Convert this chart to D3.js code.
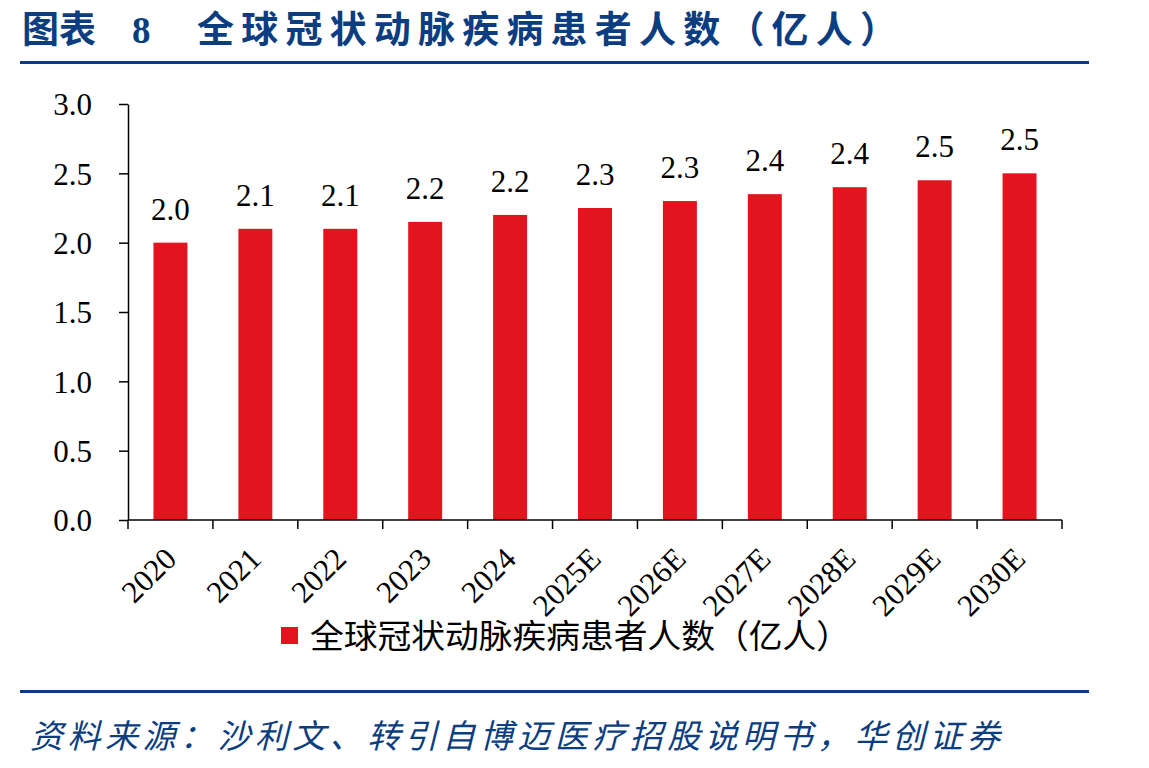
<!DOCTYPE html>
<html>
<head>
<meta charset="utf-8">
<script src="https://cdn.jsdelivr.net/npm/d3@7"></script>
<style>
  body { margin: 0; background: #fff; }
  svg { display: block; }
</style>
</head>
<body>
<div id="chart"></div>
<script>
// données
const annees = ["2020", "2021", "2022", "2023", "2024", "2025E", "2026E", "2027E", "2028E", "2029E", "2030E"];
const patients = [2.0, 2.1, 2.1, 2.15, 2.2, 2.25, 2.3, 2.35, 2.4, 2.45, 2.5];
const yTicks = [0, 0.5, 1.0, 1.5, 2.0, 2.5, 3.0];

const titreMot = "图表";
const titreNum = "8";
const titre = "全球冠状动脉疾病患者人数（亿人）";
const legende = "全球冠状动脉疾病患者人数（亿人）";
const source = "资料来源：沙利文、转引自博迈医疗招股说明书，华创证券";

const W = 1149, H = 768;
const blue = "#0b3d80";
const red = "#e3141d";
const serif = "'Liberation Serif', 'Times New Roman', serif";
const cjk = "'Noto Sans CJK SC', sans-serif";

const svg = d3.select("#chart").append("svg")
    .attr("width", W)
    .attr("height", H);

// --- titre ---
svg.append("text")
    .attr("x", 22).attr("y", 43)
    .style("font-family", cjk)
    .style("font-weight", "bold")
    .style("font-size", "37px")
    .style("fill", blue)
    .text(titreMot);

svg.append("text")
    .attr("x", 132).attr("y", 43)
    .style("font-family", serif)
    .style("font-weight", "bold")
    .style("font-size", "37px")
    .style("fill", blue)
    .text(titreNum);

svg.append("text")
    .attr("x", 197).attr("y", 43)
    .attr("textLength", 700)
    .attr("lengthAdjust", "spacing")
    .style("font-family", cjk)
    .style("font-weight", "bold")
    .style("font-size", "37px")
    .style("fill", blue)
    .text(titre);

svg.append("line")
    .attr("x1", 20).attr("x2", 1089)
    .attr("y1", 62.5).attr("y2", 62.5)
    .style("stroke", blue)
    .style("stroke-width", 3);

// --- zone du graphique ---
const plot = { left: 128, right: 1062, top: 104, bottom: 520 };

const x = d3.scaleBand()
    .domain(annees)
    .range([plot.left, plot.right])
    .paddingInner(0.6)
    .paddingOuter(0.3);

const xEdges = d3.scaleLinear()
    .domain([0, annees.length])
    .range([plot.left, plot.right]);

const y = d3.scaleLinear()
    .domain([0, 3])
    .range([plot.bottom, plot.top]);

// axe Y
const yAxis = svg.append("g")
    .attr("transform", `translate(${plot.left},0)`)
    .call(d3.axisLeft(y).tickValues(yTicks).tickFormat(d3.format(".1f")).tickSize(9).tickSizeOuter(0));
yAxis.select(".domain").style("stroke", "#000").style("stroke-width", 1.5);
yAxis.selectAll(".tick line").style("stroke", "#000").style("stroke-width", 1.5);
yAxis.selectAll(".tick text")
    .attr("x", -36)
    .attr("dy", "0.35em")
    .style("font-family", serif)
    .style("font-size", "31px")
    .style("fill", "#000");

// barres
svg.selectAll(".bar")
    .data(patients)
    .enter()
    .append("rect")
    .attr("class", "bar")
    .attr("x", (d, i) => x(annees[i]))
    .attr("y", d => y(d))
    .attr("width", x.bandwidth())
    .attr("height", d => y(0) - y(d))
    .style("fill", red);

// étiquettes de valeur (arrondi au dixième)
const fmt = v => (Math.round(v * 10 + 1e-6) / 10).toFixed(1);
svg.selectAll(".val")
    .data(patients)
    .enter()
    .append("text")
    .attr("class", "val")
    .attr("x", (d, i) => x(annees[i]) + x.bandwidth() / 2)
    .attr("y", d => y(d) - 23)
    .attr("text-anchor", "middle")
    .style("font-family", serif)
    .style("font-size", "31px")
    .style("fill", "#000")
    .text(fmt);

// axe X
const xAxis = svg.append("g");
xAxis.append("line")
    .attr("x1", plot.left).attr("x2", plot.right)
    .attr("y1", plot.bottom).attr("y2", plot.bottom)
    .style("stroke", "#000").style("stroke-width", 1.5);
xAxis.selectAll(".xtick")
    .data(d3.range(annees.length + 1))
    .enter()
    .append("line")
    .attr("x1", d => xEdges(d)).attr("x2", d => xEdges(d))
    .attr("y1", plot.bottom).attr("y2", plot.bottom + 9)
    .style("stroke", "#000").style("stroke-width", 1.5);

xAxis.selectAll(".xlab")
    .data(annees)
    .enter()
    .append("text")
    .attr("class", "xlab")
    .attr("transform", d => `translate(${x(d) + x.bandwidth() / 2},${plot.bottom + 33}) rotate(-45)`)
    .attr("text-anchor", "end")
    .attr("dy", "0.35em")
    .style("font-family", serif)
    .style("font-size", "31px")
    .style("fill", "#000")
    .text(d => d);

// --- légende ---
svg.append("rect")
    .attr("x", 281).attr("y", 627)
    .attr("width", 17).attr("height", 17)
    .style("fill", red);
svg.append("text")
    .attr("x", 310).attr("y", 648)
    .attr("textLength", 540)
    .attr("lengthAdjust", "spacingAndGlyphs")
    .style("font-family", cjk)
    .style("font-size", "33px")
    .style("fill", "#000")
    .text(legende);

// --- pied ---
svg.append("line")
    .attr("x1", 20).attr("x2", 1089)
    .attr("y1", 691.5).attr("y2", 691.5)
    .style("stroke", blue)
    .style("stroke-width", 3);

svg.append("text")
    .attr("x", 30).attr("y", 748)
    .attr("textLength", 970)
    .attr("lengthAdjust", "spacing")
    .style("font-family", cjk)
    .style("font-style", "italic")
    .style("font-size", "33px")
    .style("fill", blue)
    .text(source);
</script>
</body>
</html>
